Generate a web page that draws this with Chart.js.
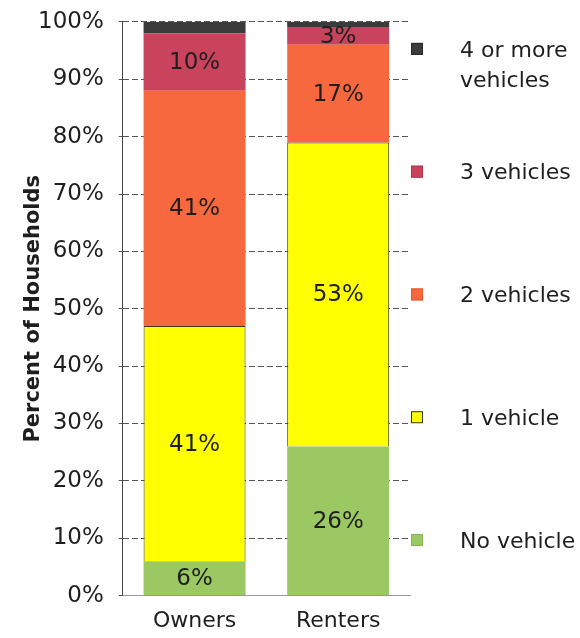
<!DOCTYPE html>
<html>
<head>
<meta charset="utf-8">
<script src="https://cdn.jsdelivr.net/npm/chart.js@4.4.1/dist/chart.umd.min.js"></script>
<style>
    html, body { margin: 0; padding: 0; background: #fff; }
    #wrap { width: 580px; height: 638px; }
</style>
</head>
<body>
<div id="wrap"><canvas id="vehicles-chart"></canvas></div>
<script>
const categories = ['Owners', 'Renters'];
const seriesLabels = ['No vehicle', '1 vehicle', '2 vehicles', '3 vehicles', '4 or more vehicles'];
const noVehicle = [6, 26];
const oneVehicle = [41, 53];
const twoVehicles = [41, 17];
const threeVehicles = [10, 3];
const fourPlus = [2, 1];
const yTicks = [0, 10, 20, 30, 40, 50, 60, 70, 80, 90, 100];
const yTitle = 'Percent of Households';

const seriesColors = ['#9bc862', '#ffff00', '#f8683f', '#c9435c', '#3b3b3b'];
const seriesBorders = ['#8ab555', '#3a3a10', '#e0592f', '#b0384f', '#2a2a2a'];
const showValue = [true, true, true, true, false];

const FONT = '"DejaVu Sans", sans-serif';

// values written in the middle of each segment
const segmentLabels = {
    id: 'segmentLabels',
    afterDatasetsDraw(chart) {
        const ctx = chart.ctx;
        ctx.save();
        ctx.font = '23px ' + FONT;
        ctx.fillStyle = '#1e1e1e';
        ctx.textAlign = 'center';
        ctx.textBaseline = 'middle';
        chart.data.datasets.forEach((ds, i) => {
            if (!showValue[i]) return;
            chart.getDatasetMeta(i).data.forEach((bar, j) => {
                const mid = (bar.y + bar.base) / 2;
                ctx.fillText(ds.data[j] + '%', bar.x, mid + 1);
            });
        });
        ctx.restore();
    }
};

// y title sits further left, under the top tick label
const sideTitle = {
    id: 'sideTitle',
    afterDraw(chart) {
        const ctx = chart.ctx;
        const area = chart.chartArea;
        ctx.save();
        ctx.translate(area.left - 89, (area.top + area.bottom) / 2);
        ctx.rotate(-Math.PI / 2);
        ctx.font = 'bold 21px ' + FONT;
        ctx.fillStyle = '#1e1e1e';
        ctx.textAlign = 'center';
        ctx.textBaseline = 'middle';
        ctx.fillText(yTitle, 0, 0);
        ctx.restore();
    }
};

// legend on the right, top series first, spread down the plot height
const sideLegend = {
    id: 'sideLegend',
    afterDraw(chart) {
        const ctx = chart.ctx;
        const area = chart.chartArea;
        const n = chart.data.datasets.length;
        const step = (area.bottom - area.top) * 0.214;
        ctx.save();
        ctx.font = '22px ' + FONT;
        ctx.textBaseline = 'middle';
        for (let k = 0; k < n; k++) {
            const i = n - 1 - k;
            const ds = chart.data.datasets[i];
            const y = area.top + 27 + k * step;
            ctx.fillStyle = ds.backgroundColor;
            ctx.fillRect(area.right + 1, y - 6, 12, 12);
            ctx.strokeStyle = seriesBorders[i];
            ctx.lineWidth = 1;
            ctx.strokeRect(area.right + 1.5, y - 5.5, 11, 11);
            ctx.fillStyle = '#1e1e1e';
            const words = ds.label.split(' ');
            const lines = [];
            let line = '';
            words.forEach(w => {
                const test = line ? line + ' ' + w : w;
                if (ctx.measureText(test).width > 122 && line) {
                    lines.push(line);
                    line = w;
                } else {
                    line = test;
                }
            });
            lines.push(line);
            lines.forEach((t, li) => {
                ctx.fillText(t, area.right + 50, y + 2 + li * 30);
            });
        }
        ctx.restore();
    }
};

const series = [noVehicle, oneVehicle, twoVehicles, threeVehicles, fourPlus];

new Chart(document.getElementById('vehicles-chart'), {
    type: 'bar',
    data: {
        labels: categories,
        datasets: series.map((values, i) => ({
            label: seriesLabels[i],
            data: values,
            backgroundColor: seriesColors[i],
            borderColor: seriesBorders[i],
            borderWidth: i === 1 ? 1 : 0,
            categoryPercentage: 1,
            barPercentage: 0.71
        }))
    },
    plugins: [segmentLabels, sideTitle, sideLegend],
    options: {
        responsive: true,
        maintainAspectRatio: false,
        animation: false,
        layout: { padding: { left: 23, right: 170, top: 0, bottom: 0 } },
        plugins: {
            legend: { display: false },
            tooltip: { enabled: false }
        },
        scales: {
            x: {
                stacked: true,
                grid: { display: false },
                border: { display: true, color: '#999', dash: [5, 3] },
                ticks: { color: '#1e1e1e', font: { family: FONT, size: 22 }, padding: 4 }
            },
            y: {
                stacked: true,
                min: 0,
                max: 100,
                afterBuildTicks(axis) {
                    axis.ticks = yTicks.map(v => ({ value: v }));
                },
                grid: {
                    color: '#555',
                    lineWidth: 1,
                    tickLength: 4,
                    tickColor: '#555'
                },
                border: { display: true, color: '#444', dash: [6, 3] },
                ticks: {
                    color: '#1e1e1e',
                    font: { family: FONT, size: 23, lineHeight: 0.6 },
                    padding: 15,
                    callback: v => v + '%'
                }
            }
        }
    }
});
</script>
</body>
</html>
